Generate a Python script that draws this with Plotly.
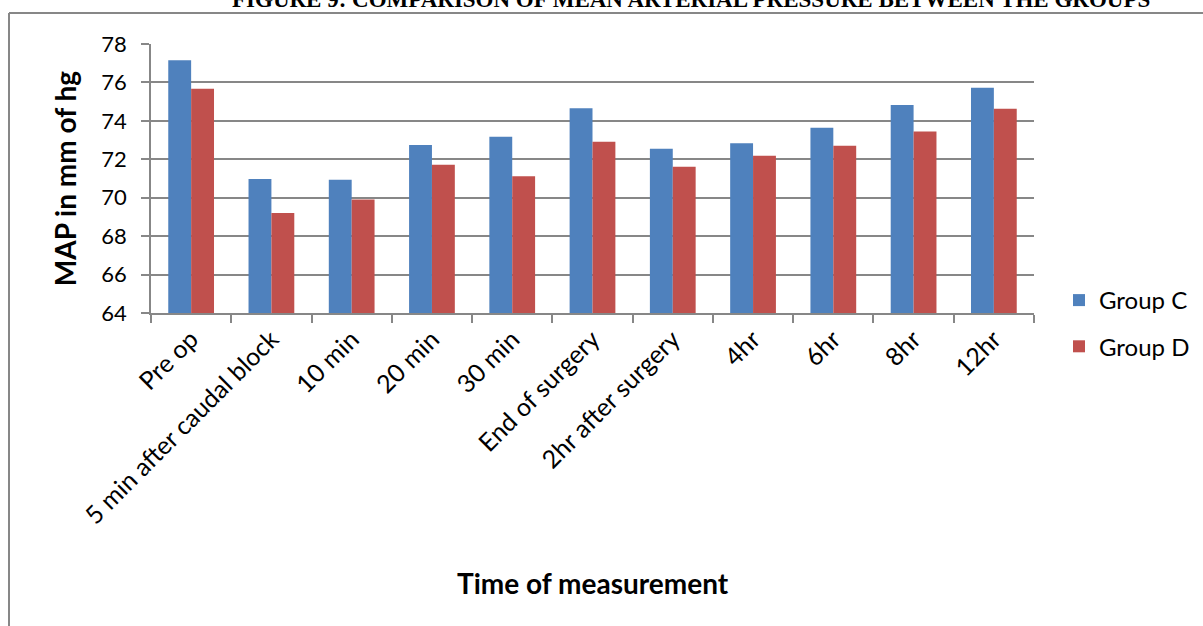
import plotly.graph_objects as go

# Time points at which mean arterial pressure was recorded
categories = ["Pre op", "5 min after caudal block", "10 min", "20 min", "30 min",
              "End of surgery", "2hr after surgery", "4hr", "6hr", "8hr", "12hr"]

# Mean arterial pressure (mm Hg) per group
group_c = [77.15, 70.97, 70.93, 72.74, 73.17, 74.65, 72.55, 72.84, 73.64, 74.82, 75.72]
group_d = [75.67, 69.21, 69.91, 71.72, 71.12, 72.91, 71.61, 72.18, 72.70, 73.45, 74.63]

y_ticks = [64, 66, 68, 70, 72, 74, 76, 78]

BLUE = "#4F81BD"
RED = "#C0504D"
GRID = "#878787"
FONT = "Lato"

W, H = 1203, 626
ML, MR, MT, MB = 151, 169, 44, 313
PW, PH = W - ML - MR, H - MT - MB


def px_to_paper_x(px):
    return (px - ML) / PW


def px_to_paper_y(py):
    return (H - MB - py) / PH


fig = go.Figure()
fig.add_trace(go.Bar(x=categories, y=group_c, name="Group C",
                     marker=dict(color=BLUE, line=dict(width=0)),
                     legendgroup="c"))
fig.add_trace(go.Bar(x=categories, y=group_d, name="Group D",
                     marker=dict(color=RED, line=dict(width=0)),
                     legendgroup="d"))

fig.update_layout(
    width=W, height=H,
    margin=dict(l=ML, r=MR, t=MT, b=MB, autoexpand=False),
    paper_bgcolor="white", plot_bgcolor="white",
    barmode="group", bargap=0.43, bargroupgap=0,
    font=dict(family=FONT, size=22, color="black"),
    legend=dict(x=px_to_paper_x(1059), y=px_to_paper_y(278), xanchor="left", yanchor="top",
                font=dict(family=FONT, size=24, color="black"),
                traceorder="grouped", tracegroupgap=12,
                bgcolor="rgba(0,0,0,0)", itemwidth=30),
    showlegend=True,
)

fig.update_yaxes(
    range=[64, 78], tickvals=y_ticks, ticktext=[str(v) for v in y_ticks],
    showgrid=True, gridcolor=GRID, gridwidth=1.5,
    showline=True, linecolor=GRID, linewidth=1.5,
    ticks="outside", ticklen=8, tickcolor=GRID, tickwidth=1.5,
    ticklabelstandoff=10,
    tickfont=dict(family=FONT, size=22, color="black"),
    zeroline=False,
    title=dict(text="<b>MAP in mm of hg</b>", standoff=17,
               font=dict(family=FONT, size=28, color="black")),
)

fig.update_xaxes(
    showline=True, linecolor=GRID, linewidth=1.5, mirror=False,
    ticks="outside", tickson="boundaries", ticklen=8, tickcolor=GRID, tickwidth=1.5,
    tickangle=-45,
    tickfont=dict(family=FONT, size=25, color="black"),
    showgrid=False,
)

# x-axis title placed as an annotation below the rotated labels
fig.add_annotation(text="<b>Time of measurement</b>", xref="paper", yref="paper",
                   x=px_to_paper_x(593), y=px_to_paper_y(583),
                   xanchor="center", yanchor="middle", showarrow=False,
                   font=dict(family=FONT, size=28, color="black"))

# Figure caption above the frame
fig.add_annotation(text="<b>FIGURE 9: COMPARISON OF MEAN ARTERIAL PRESSURE BETWEEN THE GROUPS</b>",
                   xref="paper", yref="paper",
                   x=px_to_paper_x(691), y=px_to_paper_y(14),
                   xanchor="center", yanchor="bottom", showarrow=False,
                   font=dict(family="Liberation Serif", size=23, color="black"))

# Outer frame lines (top and left edges)
fig.add_shape(type="line", xref="paper", yref="paper",
              x0=px_to_paper_x(9), x1=px_to_paper_x(1210),
              y0=px_to_paper_y(13), y1=px_to_paper_y(13),
              line=dict(color=GRID, width=2))
fig.add_shape(type="line", xref="paper", yref="paper",
              x0=px_to_paper_x(9), x1=px_to_paper_x(9),
              y0=px_to_paper_y(13), y1=px_to_paper_y(640),
              line=dict(color=GRID, width=2))

fig.write_html("out.html")
